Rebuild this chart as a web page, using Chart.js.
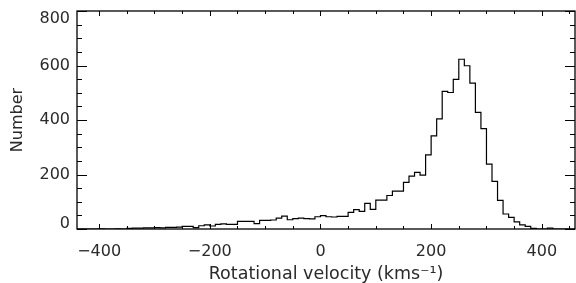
<!DOCTYPE html>
<html>
<head>
<meta charset="utf-8">
<script src="https://cdn.jsdelivr.net/npm/chart.js@4/dist/chart.umd.min.js"></script>
<style>
html, body { margin: 0; padding: 0; background: #fff; }
#wrap { width: 576px; height: 283px; }
</style>
</head>
<body>
<div id="wrap"><canvas id="HistCanvas"></canvas></div>
<script>
//------------------------------------------------------------------------------
// Histogram of rotational velocity, 10 km/s bins from -440 to 460
//------------------------------------------------------------------------------
const binStart = -440
const binWidth = 10
const binCounts = [
    0, 0, 0, 0, 1, 0, 0, 1, 0, 2,          // -440 .. -350
    3, 3, 4, 4, 5, 4, 6, 6, 7, 10,         // -340 .. -250
    10, 5, 12, 15, 11, 17, 19, 17, 17, 28, // -240 .. -150
    28, 28, 20, 32, 32, 33, 40, 47, 34, 38, // -140 .. -50
    40, 38, 37, 45, 49, 45, 44, 46, 46, 61, // -40 .. 50
    71, 65, 94, 72, 106, 106, 123, 139, 139, 171, // 60 .. 150
    194, 208, 198, 272, 342, 404, 505, 501, 549, 623, // 160 .. 250
    599, 535, 428, 368, 238, 175, 105, 55, 43, 26,    // 260 .. 350
    15, 10, 2, 0, 0, 3, 0, 0, 0, 0                    // 360 .. 450
]
const xTickValues = [-400, -200, 0, 200, 400]
const yTickValues = [0, 200, 400, 600, 800]
const xTitle = 'Rotational velocity (kms\u207B\u00B9)'
const yTitle = 'Number'

const fontFamily = "'DejaVu Sans ExtraLight', 'DejaVu Sans', sans-serif"
const textColor = '#2a2a2a'

// stepped line needs the left edge of every bin plus the closing edge
let histPoints = binCounts.map((c, i) => ({ x: binStart + i * binWidth, y: c }))
histPoints.push({ x: binStart + binCounts.length * binWidth, y: binCounts[binCounts.length - 1] })

function fmt(v) {
    return String(v).replace('-', '\u2212')
}

// box, inward ticks (IDL style) and y labels
const frameTicks = {
    id: 'frameTicks',
    afterDatasetsDraw(chart) {
        const { ctx, chartArea: a, scales: { x, y } } = chart
        ctx.save()
        ctx.strokeStyle = '#000'
        ctx.lineWidth = 1
        ctx.beginPath()
        for (let v = -400; v <= x.max; v += 50) {
            const px = Math.round(x.getPixelForValue(v)) + 0.5
            const len = v % 200 === 0 ? 5 : 3
            ctx.moveTo(px, a.bottom); ctx.lineTo(px, a.bottom - len)
            ctx.moveTo(px, a.top); ctx.lineTo(px, a.top + len)
        }
        for (let v = 0; v <= y.max; v += 50) {
            const py = Math.round(y.getPixelForValue(v)) + 0.5
            const len = v % 200 === 0 ? 10 : 5
            ctx.moveTo(a.left, py); ctx.lineTo(a.left + len, py)
            ctx.moveTo(a.right, py); ctx.lineTo(a.right - len, py)
        }
        ctx.stroke()
        ctx.lineWidth = 1.3
        ctx.strokeRect(a.left, a.top, a.right - a.left, a.bottom - a.top)

        ctx.fillStyle = textColor
        ctx.font = '16px ' + fontFamily
        ctx.textAlign = 'right'
        ctx.textBaseline = 'middle'
        yTickValues.forEach(v => {
            let py = y.getPixelForValue(v)
            py = Math.min(Math.max(py, a.top + 8), a.bottom - 5)
            ctx.fillText(fmt(v), a.left - 7, py)
        })
        ctx.restore()
    }
}

new Chart(document.getElementById('HistCanvas'), {
    type: 'line',
    data: {
        datasets: [{
            data: histPoints,
            stepped: 'before',
            borderColor: '#000',
            borderWidth: 1.2,
            pointRadius: 0,
            fill: false
        }]
    },
    options: {
        responsive: true,
        maintainAspectRatio: false,
        animation: false,
        devicePixelRatio: 1,
        layout: { padding: { top: 11, right: 1, left: 0, bottom: 0 } },
        plugins: { legend: { display: false }, tooltip: { enabled: false } },
        scales: {
            x: {
                type: 'linear',
                min: -440,
                max: 460,
                grid: { display: false, drawTicks: false },
                border: { display: false },
                afterBuildTicks: (scale) => { scale.ticks = xTickValues.map(v => ({ value: v })) },
                afterFit: (scale) => { scale.height = 54 },
                ticks: {
                    padding: 13,
                    color: textColor,
                    font: { family: fontFamily, size: 16 },
                    maxRotation: 0,
                    callback: (v) => fmt(v)
                },
                title: {
                    display: true,
                    text: xTitle,
                    color: textColor,
                    font: { family: fontFamily, size: 17.5, lineHeight: 1 },
                    padding: { top: 0, bottom: 0 }
                }
            },
            y: {
                min: 0,
                max: 800,
                grid: { display: false, drawTicks: false },
                border: { display: false },
                afterFit: (scale) => { scale.width = 77 },
                ticks: { display: false },
                title: {
                    display: true,
                    text: yTitle,
                    color: textColor,
                    font: { family: fontFamily, size: 16 },
                    padding: { top: 8, bottom: 0 }
                }
            }
        }
    },
    plugins: [frameTicks]
})
</script>
</body>
</html>
